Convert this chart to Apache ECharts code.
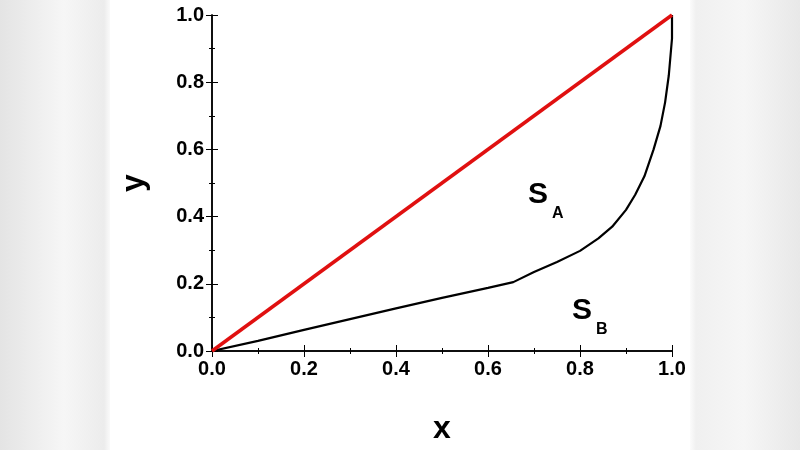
<!DOCTYPE html>
<html>
<head>
<meta charset="utf-8">
<script src="https://cdn.jsdelivr.net/npm/echarts@6/dist/echarts.min.js"></script>
<style>
    html, body { margin: 0; width: 800px; height: 450px; overflow: hidden;
        background: linear-gradient(90deg, #e4e4e4, #f6f6f6 8%, #ececec 13%, #fff 14%, #fff 86%, #f0f0f0 87%, #f6f6f6 93%, #e8e8e8); }
    #main { position: absolute; left: 110px; top: 0; width: 580px; height: 450px; background: #fff; }
</style>
</head>
<body>
<div id="main"></div>
<script>
// 对角线 (绝对均匀线)
var diagonalData = [[0, 0], [1, 1]];
// 曲线数据
var curveX = [0, 0.1, 0.2, 0.3, 0.4, 0.5, 0.6, 0.655, 0.7, 0.75, 0.8, 0.84, 0.87, 0.9, 0.92, 0.94, 0.96, 0.975, 0.985, 0.993, 1.0, 1.0];
var curveY = [0, 0.03, 0.063, 0.095, 0.127, 0.158, 0.188, 0.205, 0.235, 0.265, 0.298, 0.335, 0.37, 0.42, 0.465, 0.52, 0.6, 0.67, 0.74, 0.82, 0.93, 1.0];
var tickLabels = ['0.0', '0.2', '0.4', '0.6', '0.8', '1.0'];

var curveData = [];
for (var i = 0; i < curveX.length; i++) {
    curveData.push([curveX[i], curveY[i]]);
}

var font = { color: '#000', fontWeight: 'bold', fontSize: 20, fontFamily: 'Arial, Liberation Sans' };

function axis(pos, showLabel, name) {
    return {
        type: 'value', position: pos, min: 0, max: 1, interval: 0.2,
        name: name, nameLocation: 'middle',
        nameGap: pos === 'bottom' ? 62 : 62,
        nameTextStyle: { color: '#000', fontWeight: 'bold', fontSize: 32, fontFamily: 'Arial' },
        axisLine: { show: true, lineStyle: { color: '#000', width: 1.5 } },
        axisTick: { show: true, inside: true, length: 6, lineStyle: { color: '#000' } },
        minorTick: { show: true, splitNumber: 2, length: 3, lineStyle: { color: '#000' } },
        axisLabel: Object.assign({ show: showLabel, margin: 8,
            formatter: function(v) { return tickLabels[Math.round(v * 5)]; } }, font),
        splitLine: { show: false }
    };
}

var myChart = echarts.init(document.getElementById('main'));
var option = {
    animation: false,
    grid: { left: 78, right: 18, top: 15, bottom: 82 },
    xAxis: [axis('bottom', true, 'x'), axis('top', false, '')],
    yAxis: [axis('left', true, 'y'), axis('right', false, '')],
    graphic: [
        { type: 'text', left: 418, top: 180, style: { text: 'S', font: 'bold 30px Arial', fill: '#000' } },
        { type: 'text', left: 442, top: 206, style: { text: 'A', font: 'bold 16px Arial', fill: '#000' } },
        { type: 'text', left: 462, top: 296, style: { text: 'S', font: 'bold 30px Arial', fill: '#000' } },
        { type: 'text', left: 486, top: 322, style: { text: 'B', font: 'bold 16px Arial', fill: '#000' } }
    ],
    series: [{
        type: 'line', data: curveData, symbol: 'none',
        lineStyle: { color: '#000', width: 2.2 }
    }, {
        type: 'line', data: diagonalData, symbol: 'none',
        lineStyle: { color: '#e01010', width: 3.5 }
    }]
};
myChart.setOption(option);
</script>
</body>
</html>
